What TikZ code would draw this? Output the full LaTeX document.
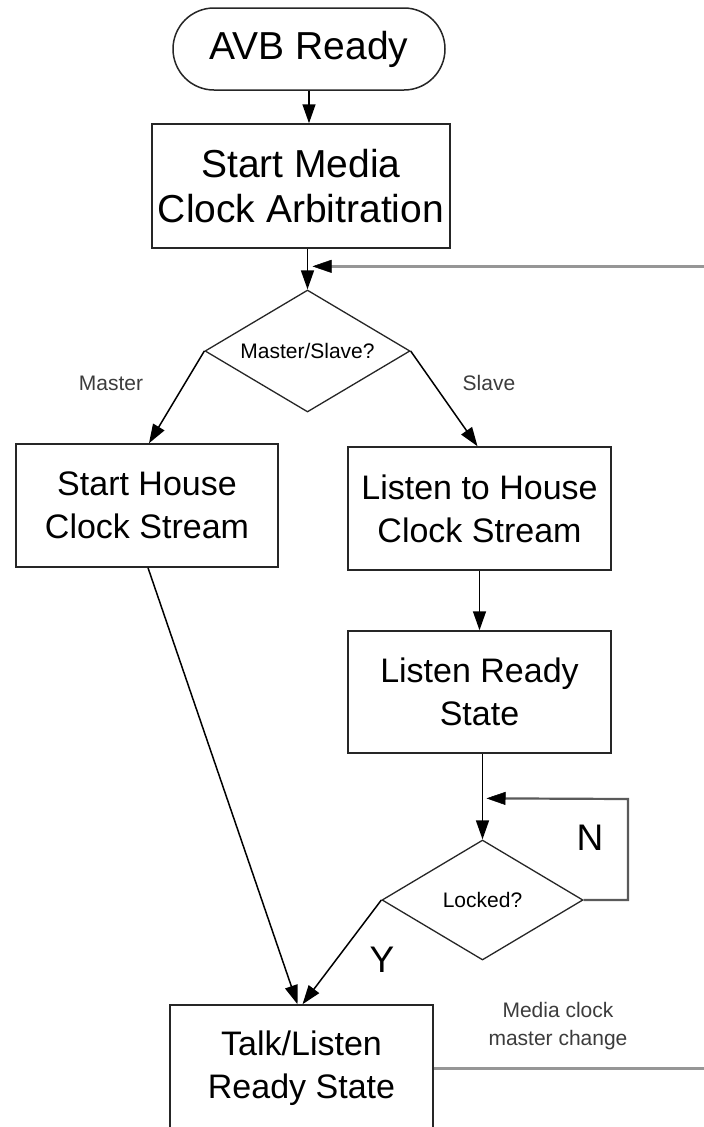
\documentclass[tikz,border=0pt]{standalone}
\usepackage{fontspec}
\setmainfont{Liberation Sans}
\usetikzlibrary{shapes.geometric,arrows.meta,calc}
\definecolor{fbgray}{RGB}{150,150,150}
\definecolor{loopgray}{RGB}{90,90,90}
\definecolor{labgray}{RGB}{60,60,60}
\tikzset{
  boxnode/.style={draw=black!85,line width=1.5pt,rectangle,inner sep=0pt,align=center,font=\fontsize{34}{43}\selectfont},
  bignode/.style={boxnode,font=\fontsize{39}{45}\selectfont},
  decnode/.style={draw=black!85,line width=1.3pt,diamond,aspect=1.68,inner sep=0pt,font=\fontsize{21}{25}\selectfont},
  flow/.style={line width=1.5pt,-{Triangle[length=19pt,width=13pt]}},
  fbline/.style={draw=fbgray,line width=3pt,-{Triangle[length=19pt,width=13pt,color=black,fill=black,line width=0.5pt]}},
  loopline/.style={draw=loopgray,line width=2.2pt,-{Triangle[length=19pt,width=13pt,color=black,fill=black,line width=0.5pt]}},
  smalllab/.style={text=labgray,align=center,font=\fontsize{21}{28}\selectfont},
  biglab/.style={font=\fontsize{37}{40}\selectfont}
}
\begin{document}
\begin{tikzpicture}[x=1pt,y=-1pt]
\clip (0,0) rectangle (704,1127);
\fill[white] (0,0) rectangle (704,1127);

% nodes
\node[bignode,rounded corners=41pt,minimum width=272pt,minimum height=82pt] (avb) at (309,49) {AVB Ready};
\node[bignode,minimum width=298pt,minimum height=124pt] (smca) at (301,186) {Start Media\\Clock Arbitration};
\node[decnode,minimum width=205pt,minimum height=122pt] (ms) at (307.5,351) {Master/Slave?};
\node[boxnode,minimum width=262pt,minimum height=123pt] (shcs) at (147,505.5) {Start House\\Clock Stream};
\node[boxnode,minimum width=263pt,minimum height=123pt] (lths) at (479.5,508.5) {Listen to House\\Clock Stream};
\node[boxnode,minimum width=263pt,minimum height=122pt] (lrs) at (479.5,692) {Listen Ready\\State};
\node[decnode,minimum width=201pt,minimum height=120pt] (lk) at (482.5,900) {Locked?};
\node[boxnode,minimum width=263pt,minimum height=126pt] (tl) at (301.5,1068) {Talk/Listen\\Ready State};

% labels
\node[smalllab] (lmaster) at (111,383) {Master};
\node[smalllab] (lslave) at (489,383) {Slave};
\node[biglab] (ln) at (590,838) {N};
\node[biglab] (ly) at (382,960) {Y};
\node[smalllab] (lmcm) at (558,1026) {Media clock\\master change};

% helper coordinates
\coordinate (far) at (760,1068);
\coordinate (nc) at (628,799);

% connectors
\draw[flow] (avb.south) -- (avb.south |- smca.north);
\draw[flow] (ms.north |- smca.south) -- (ms.north);
\draw[fbline] (tl.east) -- (far) |- ($(ms.north)+(5,-23)$);
\draw[flow] (ms.west) -- ($(shcs.north)+(2,0)$);
\draw[flow] (ms.east) -- ($(lths.north)+(-2,0)$);
\draw[flow] (lths.south) -- (lrs.north);
\draw[flow] (lk.north |- lrs.south) -- (lk.north);
\draw[loopline] (lk.east) -| (nc) -- ($(lk.north)+(4,-41)$);
\draw[flow] ($(shcs.south)+(1,0)$) -- ($(tl.north)+(-4,0)$);
\draw[flow] (lk.west) -- ($(tl.north)+(1,0)$);
\end{tikzpicture}
\end{document}
